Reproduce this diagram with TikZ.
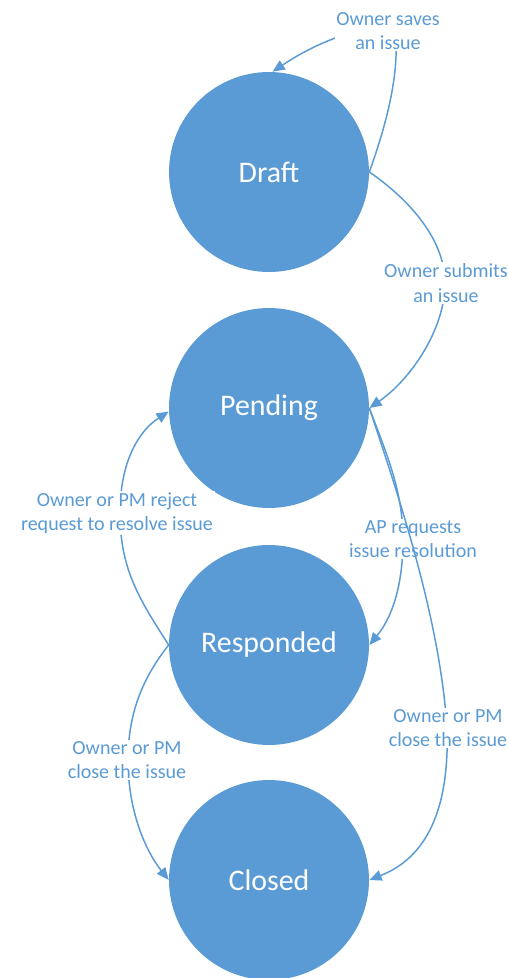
\documentclass[tikz,border=0pt]{standalone}
\usepackage{fontspec}
\setmainfont{Carlito}
\usetikzlibrary{arrows.meta}
\definecolor{obl}{HTML}{5B9BD5}
\tikzset{
  state/.style={circle, fill=obl, draw=none, minimum size=4cm, inner sep=0pt, text=white, font=\fontsize{17}{20}\selectfont},
  edge/.style={draw=obl, line width=0.85pt, -{Triangle[length=7pt,width=6pt]}},
  lbl/.style={align=center, text=obl, fill=white, inner sep=1pt, font=\fontsize{11.4}{13.8}\selectfont}
}
\begin{document}
\begin{tikzpicture}[x=0.02cm, y=-0.02cm]
\useasboundingbox (0,0) rectangle (509,978);
\node[state] (draft) at (269,172) {Draft};
\node[state] (pending) at (269,408) {Pending};
\node[state] (responded) at (269,645) {Responded};
\node[state] (closed) at (269,880) {Closed};
% Draft self loop
\draw[edge] (draft.east) .. controls (388,120) and (400,70) .. (395,30)
  .. controls (370,22) and (320,40) .. (draft.88)
  node[lbl] (l1) at (388,31) {Owner saves\\an issue};
% Draft -> Pending
\draw[edge] (draft.east) .. controls (410,200) and (445,240) .. (445,283)
  .. controls (445,330) and (410,380) .. (pending.east)
  node[lbl] (l2) at (446,283) {Owner submits\\an issue};
% Pending -> Responded
\draw[edge] (pending.east) .. controls (385,450) and (403,490) .. (403,539)
  .. controls (403,590) and (390,620) .. (responded.east)
  node[lbl] (l3) at (413,539) {AP requests\\issue resolution};
% Pending -> Closed
\draw[edge] (pending.east) .. controls (400,500) and (440,620) .. (447,728)
  .. controls (450,820) and (420,860) .. (closed.east)
  node[lbl] (l4) at (448,728) {Owner or PM\\close the issue};
% Responded -> Pending
\draw[edge] (responded.west) .. controls (140,600) and (120,570) .. (120,513)
  .. controls (120,460) and (140,430) .. (pending.182)
  node[lbl] (l5) at (117,513) {Owner or PM reject\\request to resolve issue};
% Responded -> Closed
\draw[edge] (responded.west) .. controls (145,675) and (128,710) .. (128,760)
  .. controls (128,810) and (145,850) .. (closed.west)
  node[lbl] (l6) at (127,760) {Owner or PM\\close the issue};
\end{tikzpicture}
\end{document}
